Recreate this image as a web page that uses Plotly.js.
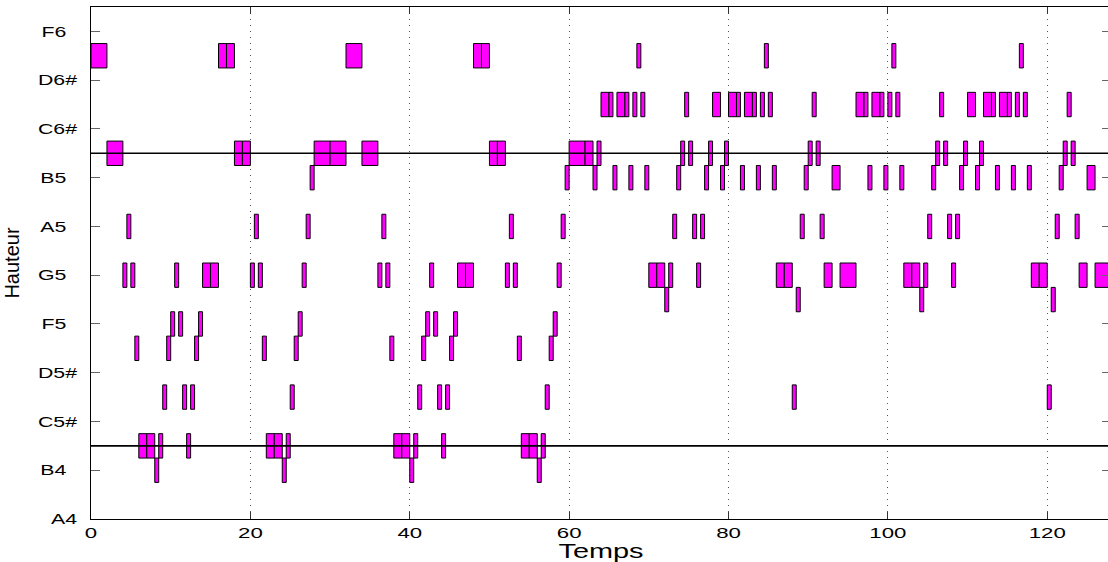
<!DOCTYPE html>
<html>
<head>
<meta charset="utf-8">
<script src="https://cdn.plot.ly/plotly-3.0.1.min.js"></script>
<style>
html,body{margin:0;padding:0;overflow:hidden;background:#fff;}
#chart{width:1112px;height:562px;}
</style>
</head>
<body>
<div id="chart"></div>
<script>
// Pitch axis ticks (MIDI numbers) and their labels
const pitchTicks = [69, 71, 73, 75, 77, 79, 81, 83, 85, 87, 89];
const pitchLabels = ['A4', 'B4\u2002', 'C5#', 'D5#', 'F5\u2002', 'G5\u2002', 'A5\u2002', 'B5\u2002', 'C6#', 'D6#', 'F6\u2002'];
const timeTicks = [0, 20, 40, 60, 80, 100, 120];
const refPitches = [72, 84];

// Notes, grouped by pitch: onsets (Temps) and durations
const E6_pitch = 88;
const E6_on  = [0, 16, 17, 32, 48, 49, 68.5, 84.5, 100.5, 116.5];
const E6_dur = [2, 1, 1, 2, 1, 1, 0.5, 0.5, 0.5, 0.5];

const D6_pitch = 86;
const D6_on  = [64, 65, 66, 67, 68, 69, 74.5, 78, 80, 81, 82, 83, 84, 85, 90.5, 96, 97, 98, 99, 100, 101, 106.5, 110, 112, 113, 114, 115, 116, 117, 122.5];
const D6_dur = [1, 0.5, 1, 0.5, 0.5, 0.5, 0.5, 1, 1, 0.5, 1, 0.5, 0.5, 0.5, 0.5, 1, 0.5, 1, 0.5, 0.5, 0.5, 0.5, 1, 1, 0.5, 1, 0.5, 0.5, 0.5, 0.5];

const C6_pitch = 84;
const C6_on  = [2, 18, 19, 28, 30, 34, 50, 51, 60, 62, 63.5, 74, 75, 77.5, 79.5, 90, 91, 106, 107, 109.5, 111.5, 122, 123];
const C6_dur = [2, 1, 1, 2, 2, 2, 1, 1, 2, 1, 0.5, 0.5, 0.5, 0.5, 0.5, 0.5, 0.5, 0.5, 0.5, 0.5, 0.5, 0.5, 0.5];

const B5_pitch = 83;
const B5_on  = [27.5, 59.5, 63, 65.5, 67.5, 69.5, 73.5, 77, 79, 81.5, 83.5, 85.5, 89.5, 93, 97.5, 99.5, 101.5, 105.5, 109, 111, 113.5, 115.5, 117.5, 121.5, 125];
const B5_dur = [0.5, 0.5, 0.5, 0.5, 0.5, 0.5, 0.5, 0.5, 0.5, 0.5, 0.5, 0.5, 0.5, 1, 0.5, 0.5, 0.5, 0.5, 0.5, 0.5, 0.5, 0.5, 0.5, 0.5, 1];

const A5_pitch = 81;
const A5_on  = [4.5, 20.5, 27, 36.5, 52.5, 59, 73, 75.5, 76.5, 89, 91.5, 105, 107.5, 108.5, 121, 123.5];
const A5_dur = [0.5, 0.5, 0.5, 0.5, 0.5, 0.5, 0.5, 0.5, 0.5, 0.5, 0.5, 0.5, 0.5, 0.5, 0.5, 0.5];

const G5_pitch = 79;
const G5_on  = [4, 5, 10.5, 14, 15, 20, 21, 26.5, 36, 37, 42.5, 46, 47, 52, 53, 58.5, 70, 71, 72.5, 76, 86, 87, 92, 94, 102, 103, 104.5, 108, 118, 119, 124, 126];
const G5_dur = [0.5, 0.5, 0.5, 1, 1, 0.5, 0.5, 0.5, 0.5, 0.5, 0.5, 1, 1, 0.5, 0.5, 0.5, 1, 1, 0.5, 0.5, 1, 1, 1, 2, 1, 1, 0.5, 0.5, 1, 1, 1, 2];

const Fs5_pitch = 78;
const Fs5_on  = [72, 88.5, 104, 120.5];
const Fs5_dur = [0.5, 0.5, 0.5, 0.5];

const F5_pitch = 77;
const F5_on  = [10, 11, 13.5, 26, 42, 43, 45.5, 58];
const F5_dur = [0.5, 0.5, 0.5, 0.5, 0.5, 0.5, 0.5, 0.5];

const E5_pitch = 76;
const E5_on  = [5.5, 9.5, 13, 21.5, 25.5, 37.5, 41.5, 45, 53.5, 57.5];
const E5_dur = [0.5, 0.5, 0.5, 0.5, 0.5, 0.5, 0.5, 0.5, 0.5, 0.5];

const D5_pitch = 74;
const D5_on  = [9, 11.5, 12.5, 25, 41, 43.5, 44.5, 57, 88, 120];
const D5_dur = [0.5, 0.5, 0.5, 0.5, 0.5, 0.5, 0.5, 0.5, 0.5, 0.5];

const C5_pitch = 72;
const C5_on  = [6, 7, 8.5, 12, 22, 23, 24.5, 38, 39, 40.5, 44, 54, 55, 56.5];
const C5_dur = [1, 1, 0.5, 0.5, 1, 1, 0.5, 1, 1, 0.5, 0.5, 1, 1, 0.5];

const B4_pitch = 71;
const B4_on  = [8, 24, 40, 56];
const B4_dur = [0.5, 0.5, 0.5, 0.5];

const rows = [
  [E6_pitch, E6_on, E6_dur], [D6_pitch, D6_on, D6_dur], [C6_pitch, C6_on, C6_dur],
  [B5_pitch, B5_on, B5_dur], [A5_pitch, A5_on, A5_dur], [G5_pitch, G5_on, G5_dur],
  [Fs5_pitch, Fs5_on, Fs5_dur], [F5_pitch, F5_on, F5_dur], [E5_pitch, E5_on, E5_dur],
  [D5_pitch, D5_on, D5_dur], [C5_pitch, C5_on, C5_dur], [B4_pitch, B4_on, B4_dur]
];

const ys = [], xs = [], bases = [];
rows.forEach(([p, on, dur]) => {
  on.forEach((o, i) => { ys.push(p); bases.push(o); xs.push(dur[i]); });
});

const FONT = 'Liberation Sans, Arial, Helvetica, sans-serif';

const traces = [{
  type: 'bar',
  orientation: 'h',
  y: ys,
  x: xs,
  base: bases,
  width: 1,
  marker: {color: '#ff00ff', line: {color: '#000000', width: 1}},
  hoverinfo: 'skip',
  showlegend: false
}];

const shapes = refPitches.map(p => ({
  type: 'line', xref: 'paper', yref: 'y', x0: 0, x1: 1, y0: p, y1: p,
  line: {color: '#000000', width: 1.6}, layer: 'above'
}));

const layout = {
  width: 1112, height: 562,
  margin: {l: 91, r: 1, t: 7, b: 43, pad: 0},
  paper_bgcolor: '#ffffff', plot_bgcolor: '#ffffff',
  showlegend: false,
  bargap: 0,
  xaxis: {
    range: [0, 128], type: 'linear',
    tickmode: 'array', tickvals: timeTicks, ticktext: timeTicks.map(String),
    ticks: 'inside', ticklen: 7, tickwidth: 1, tickcolor: '#333',
    showline: true, linecolor: '#000', linewidth: 1, mirror: 'ticks',
    showgrid: true, gridcolor: '#555', gridwidth: 1, griddash: '1px,5px',
    zeroline: false,
    tickfont: {family: FONT, size: 15, color: '#000'},
    title: {text: 'Temps', font: {family: FONT, size: 19.5, color: '#000'}, standoff: 2}
  },
  yaxis: {
    range: [69, 90], type: 'linear',
    tickmode: 'array', tickvals: pitchTicks, ticktext: pitchLabels,
    ticks: 'inside', ticklen: 9, tickwidth: 1, tickcolor: '#666',
    showline: true, linecolor: '#000', linewidth: 1, mirror: 'ticks',
    showgrid: false, zeroline: false,
    ticklabelstandoff: 10,
    tickfont: {family: FONT, size: 15, color: '#000'},
    title: {text: 'Hauteur', font: {family: FONT, size: 20, color: '#000'}, standoff: 24}
  },
  shapes: shapes
};

Plotly.newPlot('chart', traces, layout, {displayModeBar: false, staticPlot: true}).then(gd => {
  // the reference text is rendered horizontally widened
  const widen = (sel, k) => gd.querySelectorAll(sel).forEach(t => {
    const w = t.getComputedTextLength();
    if (w > 0) {
      t.setAttribute('textLength', (w * k).toFixed(2));
      t.setAttribute('lengthAdjust', 'spacingAndGlyphs');
    }
  });
  widen('.xtick text', 1.48);
  widen('.ytick text', 1.42);
  widen('.g-xtitle text', 1.48);
});
</script>
</body>
</html>
